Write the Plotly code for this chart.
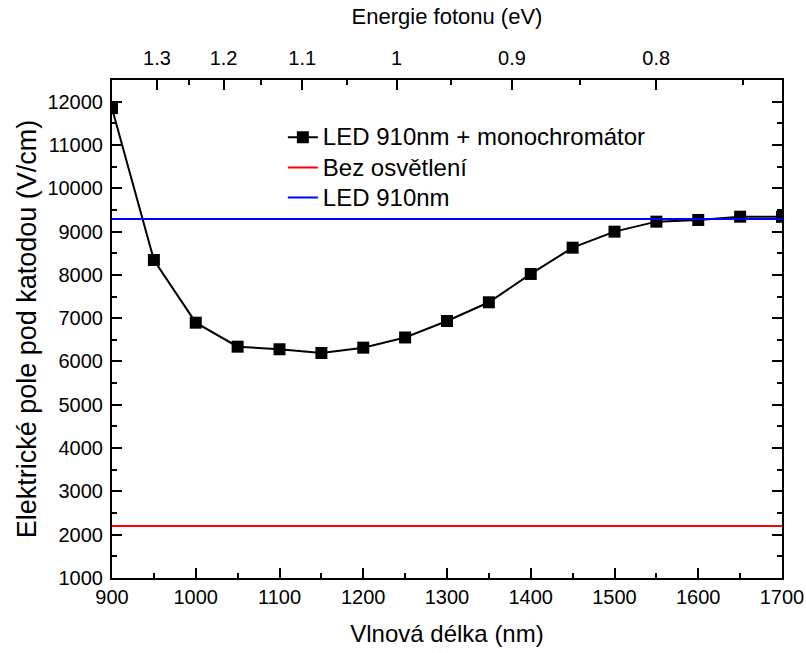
import plotly.graph_objects as go

# Data
wavelength = [900, 950, 1000, 1050, 1100, 1150, 1200, 1250, 1300, 1350,
              1400, 1450, 1500, 1550, 1600, 1650, 1700]
field_mono = [11850, 8344, 6896, 6342, 6282, 6196, 6319, 6554, 6935, 7367,
              8021, 8628, 8998, 9229, 9268, 9344, 9340]
line_x = [900, 1700]
field_dark = 2200
field_led = 9290
series_names = ["LED 910nm + monochromátor", "Bez osvětlení", "LED 910nm"]

energy_major = [1.3, 1.2, 1.1, 1.0, 0.9, 0.8]
energy_major_text = ["1.3", "1.2", "1.1", "1", "0.9", "0.8"]
energy_minor = [1.25, 1.15, 1.05, 0.95, 0.85, 0.75]
HC = 1239.84

font_family = "Liberation Sans, Arial, sans-serif"
TICK = 20


def legend_label(s):
    return "<span style='font-size:24px'>" + s + "</span>"


fig = go.Figure()
fig.add_trace(go.Scatter(
    x=wavelength, y=field_mono, mode="lines+markers",
    name=legend_label(series_names[0]),
    line=dict(color="black", width=2),
    marker=dict(symbol="square", size=12, color="black"),
    legendgroup="a",
))
fig.add_trace(go.Scatter(
    x=line_x, y=[field_dark] * len(line_x), mode="lines",
    name=legend_label(series_names[1]), line=dict(color="#ff0000", width=2),
    legendgroup="b",
))
fig.add_trace(go.Scatter(
    x=line_x, y=[field_led] * len(line_x), mode="lines",
    name=legend_label(series_names[2]), line=dict(color="#0000ff", width=2),
    legendgroup="c",
))
# invisible trace to activate top axis
fig.add_trace(go.Scatter(x=line_x, y=[field_led] * len(line_x), xaxis="x2",
                         mode="lines", line=dict(width=0), opacity=0,
                         showlegend=False, hoverinfo="skip"))

fig.update_layout(
    width=806, height=653,
    margin=dict(l=112, r=24, t=80, b=75),
    paper_bgcolor="white", plot_bgcolor="white",
    font=dict(family=font_family, size=TICK, color="black"),
    showlegend=True,
    legend=dict(x=0.255, y=0.925, xanchor="left", yanchor="top",
                bgcolor="rgba(0,0,0,0)", font=dict(size=20.8),
                tracegroupgap=0),
    xaxis=dict(
        range=[900, 1700], tickmode="array",
        tickvals=list(range(900, 1701, 100)), tickformat="d",
        ticks="inside", ticklen=10, tickwidth=1.5, tickcolor="black",
        minor=dict(tickmode="array", tickvals=list(range(950, 1700, 100)),
                   ticks="inside", ticklen=5, tickwidth=1.5, tickcolor="black"),
        showline=True, linecolor="black", linewidth=2, mirror=True,
        showgrid=False, zeroline=False, automargin=False,
        ticklabelstandoff=0,
        title=dict(text="Vlnová délka (nm)", font=dict(size=24), standoff=18),
        tickfont=dict(size=TICK),
    ),
    xaxis2=dict(
        overlaying="x", side="top", anchor="y", range=[900, 1700],
        tickmode="array",
        tickvals=[HC / e for e in energy_major], ticktext=energy_major_text,
        ticks="inside", ticklen=10, tickwidth=1.5, tickcolor="black",
        minor=dict(tickmode="array", tickvals=[HC / e for e in energy_minor],
                   ticks="inside", ticklen=5, tickwidth=1.5, tickcolor="black"),
        showline=False, showgrid=False, zeroline=False, automargin=False,
        ticklabelstandoff=10,
        title=dict(text="Energie fotonu (eV)", font=dict(size=22), standoff=16),
        tickfont=dict(size=TICK),
    ),
    yaxis=dict(
        range=[1000, 12500], tickmode="array",
        tickvals=list(range(1000, 12001, 1000)), tickformat="d",
        ticks="inside", ticklen=10, tickwidth=1.5, tickcolor="black",
        minor=dict(tickmode="array", tickvals=list(range(1500, 12501, 1000)),
                   ticks="inside", ticklen=5, tickwidth=1.5, tickcolor="black"),
        showline=True, linecolor="black", linewidth=2, mirror="ticks",
        showgrid=False, zeroline=False, automargin=False,
        ticklabelstandoff=3,
        title=dict(text="Elektrické pole pod katodou (V/cm)", font=dict(size=27), standoff=3),
        tickfont=dict(size=TICK),
    ),
)

fig.write_html("out.html")
